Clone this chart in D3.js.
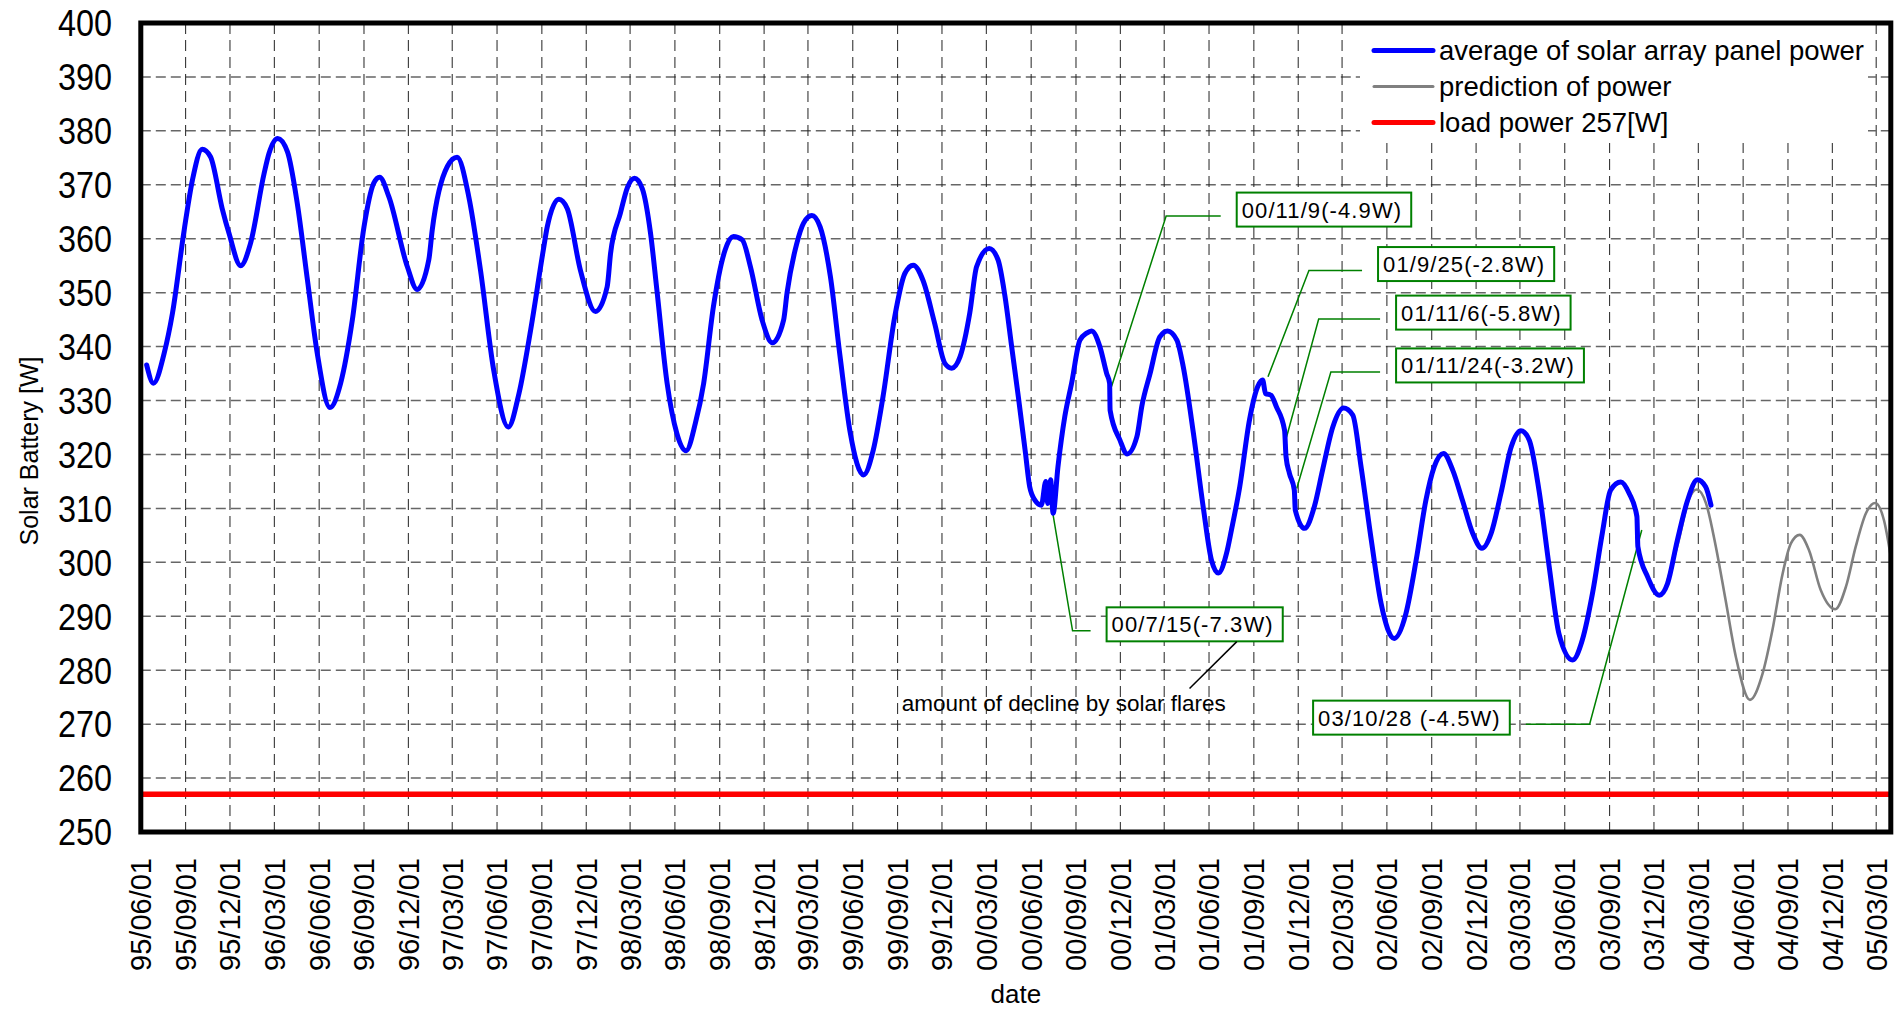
<!DOCTYPE html>
<html>
<head>
<meta charset="utf-8">
<script src="https://cdn.jsdelivr.net/npm/d3@7"></script>
<style>
html, body { margin: 0; padding: 0; background: #fff; }
svg { display: block; }
</style>
</head>
<body>
<svg id="main_svg"></svg>
<script>
const WIDTH = 1896;
const HEIGHT = 1011;
const PLOT = {left: 140.8, right: 1890.8, top: 23, bottom: 832};

// y axis ticks [W]
const yTicks = [250, 260, 270, 280, 290, 300, 310, 320, 330, 340, 350, 360, 370, 380, 390, 400];

// x axis ticks (quarterly)
const xTicks = [
	'1995-06-01', '1995-09-01', '1995-12-01', '1996-03-01', '1996-06-01', '1996-09-01', '1996-12-01',
	'1997-03-01', '1997-06-01', '1997-09-01', '1997-12-01', '1998-03-01', '1998-06-01', '1998-09-01',
	'1998-12-01', '1999-03-01', '1999-06-01', '1999-09-01', '1999-12-01', '2000-03-01', '2000-06-01',
	'2000-09-01', '2000-12-01', '2001-03-01', '2001-06-01', '2001-09-01', '2001-12-01', '2002-03-01',
	'2002-06-01', '2002-09-01', '2002-12-01', '2003-03-01', '2003-06-01', '2003-09-01', '2003-12-01',
	'2004-03-01', '2004-06-01', '2004-09-01', '2004-12-01', '2005-03-01'
];
const xDomain = ['1995-06-01', '2005-03-31'];

// average of solar array panel power
const solarPower = [
	['1995-06-13', 336.6], ['1995-06-27', 333.2], ['1995-07-19', 338.8], ['1995-08-05', 346.2],
	['1995-08-29', 361.6], ['1995-09-15', 370.9], ['1995-10-05', 376.6], ['1995-10-22', 375.2],
	['1995-11-15', 365.6], ['1995-11-29', 361.0], ['1995-12-23', 355.0], ['1996-01-12', 359.1],
	['1996-02-09', 372.1], ['1996-02-19', 375.8], ['1996-03-08', 378.6], ['1996-03-28', 376.1],
	['1996-04-17', 366.6], ['1996-05-08', 352.3], ['1996-05-28', 338.8], ['1996-06-23', 328.7],
	['1996-07-15', 333.2], ['1996-08-08', 344.9], ['1996-09-01', 362.2], ['1996-09-21', 370.3],
	['1996-10-03', 371.4], ['1996-10-22', 367.8], ['1996-11-29', 354.8], ['1996-12-19', 350.6],
	['1997-01-12', 356.1], ['1997-01-19', 361.6], ['1997-02-19', 373.4], ['1997-03-11', 375.1],
	['1997-04-04', 367.8], ['1997-04-28', 354.2], ['1997-05-25', 335.7], ['1997-06-24', 325.1],
	['1997-07-16', 331.3], ['1997-08-09', 343.1], ['1997-09-05', 358.5], ['1997-09-12', 362.2],
	['1997-10-06', 367.3], ['1997-10-23', 365.6], ['1997-11-19', 354.2], ['1997-12-20', 346.5],
	['1998-01-13', 351.1], ['1998-01-20', 357.3], ['1998-02-09', 364.7], ['1998-02-24', 369.6],
	['1998-03-10', 371.2], ['1998-03-26', 369.3], ['1998-04-12', 361.0], ['1998-04-25', 350.5],
	['1998-05-16', 333.2], ['1998-06-05', 323.9], ['1998-06-24', 320.7], ['1998-07-13', 325.8],
	['1998-07-30', 333.2], ['1998-08-19', 347.4], ['1998-09-12', 357.9], ['1998-09-29', 360.4],
	['1998-10-17', 359.8], ['1998-11-03', 354.8], ['1998-11-27', 344.9], ['1998-12-18', 340.7],
	['1999-01-10', 344.9], ['1999-01-17', 349.9], ['1999-02-06', 359.1], ['1999-02-20', 362.9],
	['1999-03-09', 364.3], ['1999-03-26', 362.2], ['1999-04-16', 353.0], ['1999-05-06', 338.1],
	['1999-05-27', 323.9], ['1999-06-23', 316.2], ['1999-07-13', 320.8], ['1999-08-02', 330.7],
	['1999-08-26', 345.5], ['1999-09-16', 353.6], ['1999-10-03', 355.1], ['1999-10-23', 352.3],
	['1999-11-16', 344.3], ['1999-12-07', 336.9], ['1999-12-21', 336.0], ['2000-01-07', 338.1],
	['2000-01-27', 346.2], ['2000-02-10', 354.8], ['2000-03-07', 358.2], ['2000-03-25', 356.1],
	['2000-04-08', 349.5], ['2000-04-22', 340.0], ['2000-05-06', 330.5], ['2000-05-20', 320.5],
	['2000-05-29', 314.0], ['2000-06-09', 311.5], ['2000-06-22', 310.6], ['2000-07-01', 315.0],
	['2000-07-05', 310.9], ['2000-07-11', 315.3], ['2000-07-16', 309.1], ['2000-07-26', 317.7],
	['2000-08-09', 327.0], ['2000-08-23', 333.2], ['2000-09-09', 341.2], ['2000-09-23', 342.5],
	['2000-10-03', 342.9], ['2000-10-20', 340.0], ['2000-11-03', 335.0], ['2000-11-09', 333.2],
	['2000-11-10', 328.2], ['2000-11-30', 322.7], ['2000-12-15', 320.1], ['2001-01-04', 323.3],
	['2001-01-14', 328.9], ['2001-01-31', 335.0], ['2001-02-20', 341.8], ['2001-03-08', 342.9],
	['2001-03-27', 341.2], ['2001-04-09', 336.3], ['2001-04-30', 323.9], ['2001-05-20', 310.3],
	['2001-06-06', 300.4], ['2001-06-20', 298.0], ['2001-07-07', 301.7], ['2001-07-17', 306.0],
	['2001-08-03', 314.0], ['2001-08-23', 326.4], ['2001-09-09', 332.6], ['2001-09-19', 333.8],
	['2001-09-25', 331.3], ['2001-10-06', 331.0], ['2001-10-17', 328.9], ['2001-11-03', 324.5],
	['2001-11-06', 319.6], ['2001-11-13', 316.5], ['2001-11-23', 313.4], ['2001-11-25', 309.7],
	['2001-12-14', 306.3], ['2002-01-03', 310.3], ['2002-01-20', 317.1], ['2002-02-10', 325.1],
	['2002-03-04', 328.6], ['2002-03-23', 327.3], ['2002-04-09', 317.7], ['2002-04-30', 304.1],
	['2002-05-20', 292.4], ['2002-06-16', 285.9], ['2002-07-10', 290.5], ['2002-07-31', 300.4],
	['2002-08-20', 311.5], ['2002-09-06', 317.7], ['2002-09-25', 320.2], ['2002-10-14', 317.1],
	['2002-11-03', 311.5], ['2002-11-24', 305.4], ['2002-12-13', 302.6], ['2003-01-01', 305.4],
	['2003-01-21', 312.8], ['2003-02-11', 321.4], ['2003-03-03', 324.4], ['2003-03-20', 322.7],
	['2003-04-09', 313.4], ['2003-04-30', 299.2], ['2003-05-20', 286.8], ['2003-06-17', 281.9],
	['2003-07-07', 285.6], ['2003-07-28', 294.3], ['2003-08-17', 305.4], ['2003-09-03', 313.4],
	['2003-09-24', 314.9], ['2003-10-11', 312.8], ['2003-10-27', 308.5], ['2003-10-29', 302.9],
	['2003-11-18', 297.3], ['2003-12-12', 293.9], ['2003-12-29', 296.1], ['2004-01-18', 304.1],
	['2004-02-08', 311.5], ['2004-02-28', 315.3], ['2004-03-16', 314.0], ['2004-03-27', 310.6]
];

// prediction of power
const predictionPower = [
	['2003-12-28', 296.4], ['2004-01-21', 304.1], ['2004-02-10', 311.5], ['2004-02-27', 313.5],
	['2004-03-17', 310.9], ['2004-04-06', 302.9], ['2004-04-26', 293.0], ['2004-05-17', 282.5],
	['2004-06-15', 274.5], ['2004-07-11', 279.4], ['2004-07-31', 287.4], ['2004-08-21', 297.9],
	['2004-09-07', 303.5], ['2004-09-25', 305.1], ['2004-10-14', 302.3], ['2004-11-07', 294.9],
	['2004-12-07', 291.3], ['2004-12-29', 295.5], ['2005-01-18', 302.9], ['2005-02-08', 309.1],
	['2005-02-27', 311.0], ['2005-03-17', 307.8], ['2005-03-31', 301.0]
];

const loadPower = 257;

const legendLabels = ['average of solar array panel power', 'prediction of power', 'load power 257[W]'];

// solar flare events: anchor on the curve, elbow, end of leader
const flareNotes = [
	{text: '00/7/15(-7.3W)', side: 'right', pts: [['2000-07-16', 308.8], ['2000-08-25', 287.3], ['2000-10-01', 287.3]]},
	{text: '00/11/9(-4.9W)', side: 'right', pts: [['2000-11-13', 332.6], ['2001-03-05', 364.2], ['2001-06-25', 364.2]]},
	{text: '01/9/25(-2.8W)', side: 'right', pts: [['2001-09-30', 334.4], ['2001-12-23', 354.1], ['2002-04-11', 354.1]]},
	{text: '01/11/6(-5.8W)', side: 'right', pts: [['2001-11-07', 323.2], ['2002-01-12', 345.1], ['2002-05-18', 345.1]]},
	{text: '01/11/24(-3.2W)', side: 'right', pts: [['2001-11-28', 313.7], ['2002-02-06', 335.3], ['2002-05-18', 335.3]]},
	{text: '03/10/28 (-4.5W)', side: 'left', pts: [['2003-11-06', 306.0], ['2003-07-22', 270.0], ['2003-03-13', 270.0]]}
];
const flareCaption = {text: 'amount of decline by solar flares', at: ['2000-08-07', 272.4],
	pointer: [['2001-07-28', 285.3], ['2001-04-22', 276.6]]};

const parseDate = d3.timeParse('%Y-%m-%d');
const fmtTick = d3.timeFormat('%y/%m/%d');

const svg = d3.select('#main_svg').attr('width', WIDTH).attr('height', HEIGHT);

const x_scale = d3.scaleTime()
	.domain(xDomain.map(parseDate))
	.range([PLOT.left, PLOT.right]);

const y_scale = d3.scaleLinear()
	.domain([250, 400])
	.range([PLOT.bottom, PLOT.top]);

// grid
const grid = svg.append('g');
grid.selectAll('.hgrid')
	.data(yTicks.filter(d => d > 250 && d < 400))
	.enter().append('line')
	.attr('x1', PLOT.left).attr('x2', PLOT.right)
	.attr('y1', d => y_scale(d)).attr('y2', d => y_scale(d))
	.attr('stroke', '#666').attr('stroke-width', 1.5)
	.attr('stroke-dasharray', '10,5');

grid.selectAll('.vgrid')
	.data(xTicks.slice(1).map(parseDate))
	.enter().append('line')
	.attr('x1', d => x_scale(d)).attr('x2', d => x_scale(d))
	.attr('y1', PLOT.top).attr('y2', PLOT.bottom)
	.attr('stroke', '#222').attr('stroke-width', 1)
	.attr('stroke-dasharray', '11,6');

// legend background hides the grid
svg.append('rect')
	.attr('x', 1360).attr('y', PLOT.top + 2)
	.attr('width', 508).attr('height', 118)
	.attr('fill', '#fff');

// load power
svg.append('line')
	.attr('x1', PLOT.left).attr('x2', PLOT.right)
	.attr('y1', y_scale(loadPower)).attr('y2', y_scale(loadPower))
	.attr('stroke', '#ff0000').attr('stroke-width', 5.5);

// annotations
const green = '#008000';
const notes = svg.append('g');
flareNotes.forEach(n => {
	const pts = n.pts.map(p => [x_scale(parseDate(p[0])), y_scale(p[1])]);
	notes.append('path')
		.attr('d', d3.line()(pts))
		.attr('fill', 'none').attr('stroke', green).attr('stroke-width', 1.5);

	const end = pts[pts.length - 1];
	const g = notes.append('g');
	const rect = g.append('rect');
	const t = g.append('text')
		.attr('font-family', 'Liberation Sans, Arial, sans-serif')
		.attr('font-size', 22)
		.attr('letter-spacing', 1.1)
		.attr('dy', '0.36em')
		.text(n.text);
	const tw = t.node().getComputedTextLength();
	const bw = tw + 14;
	const bh = 34;
	const left = n.side === 'right' ? end[0] + 16 : end[0] - 16 - bw;
	const cy = end[1] - 6.5;
	rect.attr('x', left).attr('y', cy - bh / 2).attr('width', bw).attr('height', bh)
		.attr('fill', '#fff').attr('stroke', green).attr('stroke-width', 2);
	t.attr('x', left + 5).attr('y', cy);
});

svg.append('path')
	.attr('d', d3.line()(flareCaption.pointer.map(p => [x_scale(parseDate(p[0])), y_scale(p[1])])))
	.attr('stroke', '#000').attr('stroke-width', 1.5);
svg.append('text')
	.attr('x', x_scale(parseDate(flareCaption.at[0])))
	.attr('y', y_scale(flareCaption.at[1]))
	.attr('text-anchor', 'middle')
	.attr('font-family', 'Liberation Sans, Arial, sans-serif')
	.attr('font-size', 22.5)
	.text(flareCaption.text);

// series
const line = d3.line()
	.x(d => x_scale(parseDate(d[0])))
	.y(d => y_scale(d[1]))
	.curve(d3.curveMonotoneX);

svg.append('path')
	.datum(predictionPower)
	.attr('d', line)
	.attr('fill', 'none').attr('stroke', '#808080').attr('stroke-width', 2.6);

svg.append('path')
	.datum(solarPower)
	.attr('d', line)
	.attr('fill', 'none').attr('stroke', '#0000ff').attr('stroke-width', 5)
	.attr('stroke-linejoin', 'round').attr('stroke-linecap', 'round');

// frame
svg.append('rect')
	.attr('x', PLOT.left).attr('y', PLOT.top)
	.attr('width', PLOT.right - PLOT.left).attr('height', PLOT.bottom - PLOT.top)
	.attr('fill', 'none').attr('stroke', '#000').attr('stroke-width', 5);

// y tick labels
svg.append('g').selectAll('text')
	.data(yTicks)
	.enter().append('text')
	.attr('transform', d => `translate(112,${y_scale(d)}) scale(0.875,1)`)
	.attr('text-anchor', 'end')
	.attr('dy', '0.36em')
	.attr('font-family', 'Liberation Sans, Arial, sans-serif')
	.attr('font-size', 37)
	.text(d => d);

// x tick labels
svg.append('g').selectAll('text')
	.data(xTicks.map(parseDate))
	.enter().append('text')
	.attr('transform', d => `translate(${x_scale(d)},858) rotate(-90)`)
	.attr('text-anchor', 'end')
	.attr('dy', '0.36em')
	.attr('font-family', 'Liberation Sans, Arial, sans-serif')
	.attr('font-size', 29)
	.text(d => fmtTick(d));

// axis titles
svg.append('text')
	.attr('transform', 'translate(29,451) rotate(-90)')
	.attr('text-anchor', 'middle')
	.attr('dy', '0.36em')
	.attr('font-family', 'Liberation Sans, Arial, sans-serif')
	.attr('font-size', 25)
	.text('Solar Battery [W]');

svg.append('text')
	.attr('x', (PLOT.left + PLOT.right) / 2)
	.attr('y', 1003)
	.attr('text-anchor', 'middle')
	.attr('font-family', 'Liberation Sans, Arial, sans-serif')
	.attr('font-size', 26)
	.text('date');

// legend
const legendColors = ['#0000ff', '#808080', '#ff0000'];
const legendWidths = [5, 3, 5];
const legend = svg.append('g');
legendLabels.forEach((label, i) => {
	const ly = 50.5 + i * 36;
	legend.append('line')
		.attr('x1', 1374).attr('x2', 1433)
		.attr('y1', ly).attr('y2', ly)
		.attr('stroke', legendColors[i]).attr('stroke-width', legendWidths[i])
		.attr('stroke-linecap', 'round');
	legend.append('text')
		.attr('transform', `translate(1439,${ly})`)
		.attr('dy', '0.36em')
		.attr('font-family', 'Liberation Sans, Arial, sans-serif')
		.attr('font-size', 27.5)
		.text(label);
});
</script>
</body>
</html>
